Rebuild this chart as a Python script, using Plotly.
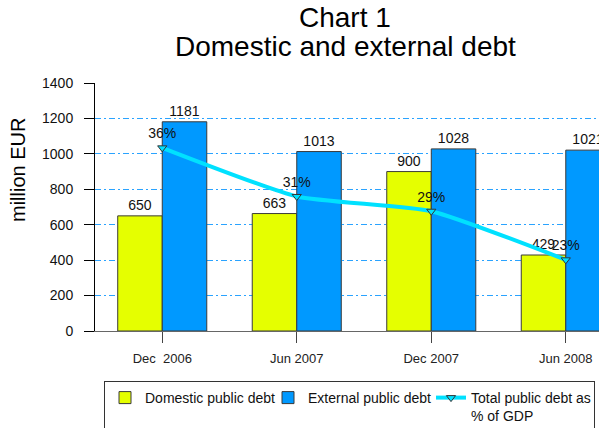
import plotly.graph_objects as go

categories = ["Dec  2006", "Jun 2007", "Dec 2007", "Jun 2008"]
domestic = [650, 663, 900, 429]
external = [1181, 1013, 1028, 1021]
total_pct_gdp = [36.3, 30.7, 29.0, 23.4]
y_ticks = [0, 200, 400, 600, 800, 1000, 1200, 1400]

FONT = "Liberation Sans, Arial, sans-serif"
W, H = 599, 428
T, B = 83, 97
PH = H - T - B  # plot height in px


def py(pix):
    """paper y for a pixel row measured from the top of the page"""
    return (H - B - pix) / PH


fig = go.Figure()
fig.add_trace(go.Bar(
    name="Domestic public debt", x=categories, y=domestic,
    marker=dict(color="#e5ff00", line=dict(color="#3a3a3a", width=1)),
    text=domestic, textposition="outside", cliponaxis=True,
    textfont=dict(size=14, color="#111", family=FONT),
))
fig.add_trace(go.Bar(
    name="External public debt", x=categories, y=external,
    marker=dict(color="#0099ff", line=dict(color="#3a3a3a", width=1)),
    text=external, textposition="outside", cliponaxis=True,
    textfont=dict(size=14, color="#111", family=FONT),
))
fig.add_trace(go.Scatter(
    name="Total public debt as<br>% of GDP", x=categories, y=total_pct_gdp,
    yaxis="y2", mode="lines+markers+text",
    line=dict(color="#00e1ff", width=4, shape="spline", smoothing=0.5),
    marker=dict(symbol="triangle-down", size=8, color="#00e1ff",
                line=dict(color="#333", width=1)),
    texttemplate="%{y:.0f}%", textposition="top center",
    textfont=dict(size=14, color="#111", family=FONT),
    cliponaxis=False,
))

fig.update_layout(
    width=W, height=H,
    margin=dict(l=0, r=0, t=T, b=B, autoexpand=False),
    paper_bgcolor="white", plot_bgcolor="white",
    font=dict(family=FONT, color="#111"),
    barmode="group", bargap=0.338, bargroupgap=0,
    showlegend=True,
    annotations=[
        dict(text="Chart 1", showarrow=False, xref="paper", yref="paper",
             x=345 / W, y=py(18), xanchor="center", yanchor="middle",
             font=dict(size=28, color="#000", family=FONT)),
        dict(text="Domestic and external debt", showarrow=False,
             xref="paper", yref="paper", x=345 / W, y=py(46),
             xanchor="center", yanchor="middle",
             font=dict(size=28, color="#000", family=FONT)),
        dict(text="million EUR", showarrow=False, textangle=-90,
             xref="paper", yref="paper", x=18 / W, y=py(170),
             xanchor="center", yanchor="middle",
             font=dict(size=20, color="#000", family=FONT)),
    ],
    legend=dict(orientation="h", x=104 / W, xanchor="left",
                y=py(381), yanchor="top",
                bordercolor="#333", borderwidth=1, bgcolor="white",
                font=dict(size=14, color="#111", family=FONT),
                valign="top", itemwidth=30, entrywidth=118,
                traceorder="normal"),
    xaxis=dict(domain=[95 / W, 1], range=[-0.5, 3.247],
               showline=True, linecolor="#666", linewidth=1,
               ticks="outside", ticklen=11, tickcolor="#444",
               tickfont=dict(size=13, color="#222", family=FONT),
               ticklabelstandoff=4, showgrid=False, zeroline=False),
    yaxis=dict(range=[0, 1400], tickvals=y_ticks,
               showline=True, linecolor="#000", linewidth=1,
               ticks="outside", ticklen=10, tickcolor="#000",
               ticklabelstandoff=8,
               tickfont=dict(size=14, color="#111", family=FONT),
               showgrid=True, gridcolor="#2aa3ff", griddash="6px,3px,2px,3px",
               gridwidth=1, zeroline=False),
    yaxis2=dict(overlaying="y", range=[15.2, 15.2 + 1400 / 49], visible=False,
                showgrid=False),
)

fig.write_html("out.html", config={"displayModeBar": False},
               post_script="document.body.style.margin='0';")
